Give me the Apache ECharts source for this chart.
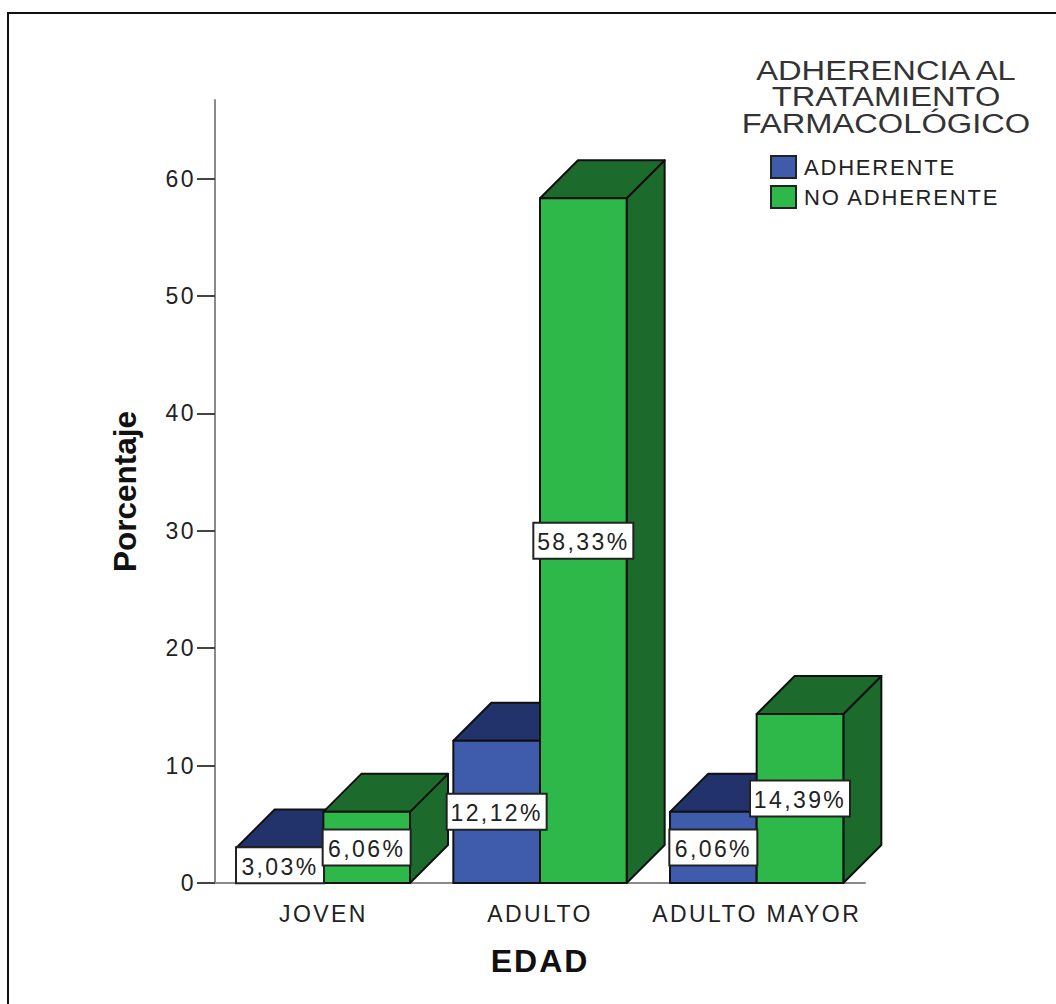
<!DOCTYPE html>
<html>
<head>
<meta charset="utf-8">
<style>
  html, body { margin: 0; padding: 0; background: #fff; }
  #chart { width: 1056px; height: 1004px; }
  /* Wide-set capitals and digits used by the axis, legend and value labels */
  #chart text[style*="23px"] { letter-spacing: 2.4px; }
  #chart text[style*="22px"] { letter-spacing: 1.8px; }
  #chart text[style*="32px"] { letter-spacing: 2px; }
</style>
<script src="https://cdn.jsdelivr.net/npm/echarts@6/dist/echarts.min.js"></script>
</head>
<body>
<div id="chart"></div>
<script>
const categories = ['JOVEN', 'ADULTO', 'ADULTO MAYOR'];
const seriesNames = ['ADHERENTE', 'NO ADHERENTE'];
const adherente = [3.03, 12.12, 6.06];
const noAdherente = [6.06, 58.33, 14.39];
const yTicks = [0, 10, 20, 30, 40, 50, 60];
const legendTitle = 'ADHERENCIA AL\nTRATAMIENTO\nFARMACOLÓGICO';

const FONT = '"Liberation Sans", Arial, sans-serif';
const EDGE = '#111111';
const DEPTH = 38;
const BAR_RATIO = 0.4;

// A box with a front face, a receding top and a receding right side.
function boxRenderer(side, front, top, right) {
  return function (params, api) {
    const band = api.size([1, 0])[0];
    const barW = band * BAR_RATIO;
    const base = api.coord([api.value(0), 0]);
    const head = api.coord([api.value(0), api.value(1)]);
    const x0 = base[0] + (side < 0 ? -barW : 0);
    const x1 = x0 + barW;
    const y0 = base[1];
    const y1 = head[1];
    const style = function (fill) {
      return { fill: fill, stroke: EDGE, lineWidth: 2, lineJoin: 'round' };
    };
    return {
      type: 'group',
      children: [
        { type: 'polygon', shape: { points: [[x1, y1], [x1 + DEPTH, y1 - DEPTH], [x1 + DEPTH, y0 - DEPTH], [x1, y0]] }, style: style(right) },
        { type: 'polygon', shape: { points: [[x0, y1], [x0 + DEPTH, y1 - DEPTH], [x1 + DEPTH, y1 - DEPTH], [x1, y1]] }, style: style(top) },
        { type: 'rect', shape: { x: x0, y: y1, width: barW, height: y0 - y1 }, style: style(front) }
      ]
    };
  };
}

// Value tag centred on the front face, halfway up the bar.
function tagRenderer(side) {
  return function (params, api) {
    const band = api.size([1, 0])[0];
    const barW = band * BAR_RATIO;
    const value = api.value(1);
    const mid = api.coord([api.value(0), value / 2]);
    const cx = mid[0] + side * barW / 2;
    const text = value.toFixed(2).replace('.', ',') + '%';
    const w = 12 * text.length + 28;
    const h = 36;
    return {
      type: 'group',
      children: [
        { type: 'rect', shape: { x: cx - w / 2, y: mid[1] - h / 2, width: w, height: h },
          style: { fill: '#ffffff', stroke: '#222222', lineWidth: 2 } },
        { type: 'text', x: cx, y: mid[1] + 1.5,
          style: { text: text, fill: '#222222', font: '23px ' + FONT, align: 'center', verticalAlign: 'middle' } }
      ]
    };
  };
}

const toData = function (values) {
  return values.map(function (v, i) { return [i, v]; });
};

const chart = echarts.init(document.getElementById('chart'), null, { renderer: 'svg', width: 1056, height: 1004 });

chart.setOption({
  animation: false,
  backgroundColor: '#ffffff',
  grid: { left: 215, right: 191, top: 100, bottom: 121 },
  legend: {
    orient: 'vertical',
    left: 765,
    top: 150,
    itemWidth: 25,
    itemHeight: 22,
    itemGap: 6,
    icon: 'rect',
    data: seriesNames,
    itemStyle: { borderColor: '#222222', borderWidth: 2 },
    textStyle: { fontFamily: FONT, fontSize: 22, color: '#222222', padding: [0, 0, 0, 3] }
  },
  xAxis: {
    type: 'category',
    data: categories,
    name: 'EDAD',
    nameLocation: 'middle',
    nameGap: 62,
    nameTextStyle: { fontFamily: FONT, fontSize: 32, fontWeight: 'bold', color: '#111111' },
    axisLine: { lineStyle: { color: '#8a8a8a', width: 2 } },
    axisTick: { alignWithLabel: true, length: 14, lineStyle: { color: '#444444', width: 2 } },
    axisLabel: { fontFamily: FONT, fontSize: 23, color: '#222222', margin: 19, interval: 0 }
  },
  yAxis: {
    type: 'value',
    min: 0,
    max: 66.7,
    interval: 10,
    name: 'Porcentaje',
    nameLocation: 'middle',
    nameGap: 74,
    nameTextStyle: { fontFamily: FONT, fontSize: 31.5, fontWeight: 'bold', color: '#111111' },
    splitLine: { show: false },
    axisLine: { show: true, lineStyle: { color: '#8a8a8a', width: 2 } },
    axisTick: { show: true, length: 18, customValues: yTicks, lineStyle: { color: '#444444', width: 2 } },
    axisLabel: { fontFamily: FONT, fontSize: 23, color: '#222222', margin: 19, customValues: yTicks }
  },
  graphic: [
    // Frame drawn along the left and top edges only
    { type: 'polyline', silent: true, z: -1, shape: { points: [[8, 1004], [8, 13], [1056, 13]] },
      style: { fill: 'none', stroke: '#111111', lineWidth: 2 } },
    { type: 'text', silent: true, x: 886, y: 57, scaleX: 1.21, originX: 0, originY: 0,
      style: { text: legendTitle, fill: '#333333', font: '27px ' + FONT, lineHeight: 26.5, align: 'center', verticalAlign: 'top' } }
  ],
  series: [
    { name: seriesNames[0], type: 'custom', z: 2, itemStyle: { color: '#3f5bab' },
      renderItem: boxRenderer(-1, '#3f5bab', '#22336b', '#22336b'), data: toData(adherente), encode: { x: 0, y: 1 } },
    { name: seriesNames[1], type: 'custom', z: 3, itemStyle: { color: '#2eb84a' },
      renderItem: boxRenderer(1, '#2eb84a', '#1c6b2d', '#1c6b2d'), data: toData(noAdherente), encode: { x: 0, y: 1 } },
    { type: 'custom', z: 5, silent: true, renderItem: tagRenderer(-1), data: toData(adherente), encode: { x: 0, y: 1 } },
    { type: 'custom', z: 5, silent: true, renderItem: tagRenderer(1), data: toData(noAdherente), encode: { x: 0, y: 1 } }
  ]
});
</script>
</body>
</html>
